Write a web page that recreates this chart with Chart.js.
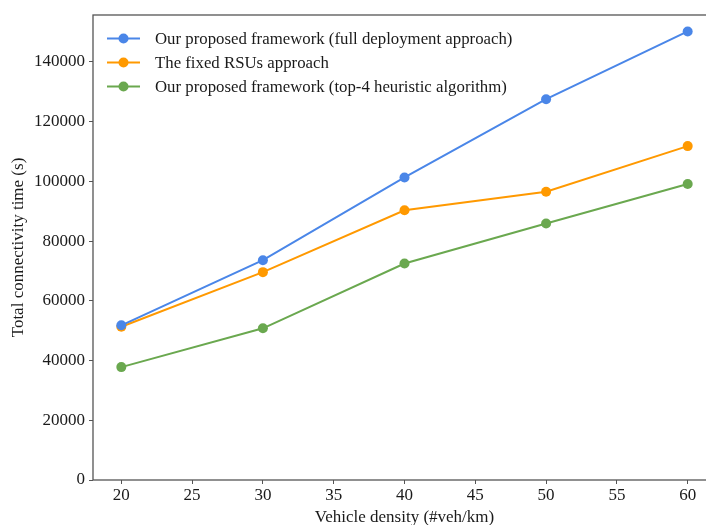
<!DOCTYPE html>
<html>
<head>
<meta charset="utf-8">
<script src="https://cdn.jsdelivr.net/npm/chart.js@4"></script>
<style>
  html, body { margin: 0; padding: 0; overflow: hidden; background: #fff; }
  #wrap { width: 740px; height: 525px; }
</style>
</head>
<body>
<div id="wrap"><canvas id="chart"></canvas></div>
<script>
'use strict'
// datos
const densidad = [20, 30, 40, 50, 60]
const fullDeployment = [51800, 73600, 101300, 127500, 150200]
const fixedRSUs = [51300, 69600, 90300, 96500, 111800]
const top4Heuristic = [37800, 50800, 72500, 85900, 99100]
const xTicks = [20, 25, 30, 35, 40, 45, 50, 55, 60]
const yTicks = [0, 20000, 40000, 60000, 80000, 100000, 120000, 140000]

const labels = [
    'Our proposed framework (full deployment approach)',
    'The fixed RSUs approach',
    'Our proposed framework (top-4 heuristic algorithm)'
]
const colores = ['#4a86e8', '#ff9900', '#6aa84f']
const fuente = "'Liberation Serif', 'Times New Roman', serif"

// marco del grafico (los 4 lados, como matplotlib)
const marco = {
    id: 'marco',
    afterDraw(chart) {
        const { ctx, chartArea: a } = chart
        ctx.save()
        ctx.strokeStyle = '#555'
        ctx.lineWidth = 1.3
        ctx.strokeRect(a.left, a.top, a.right - a.left, a.bottom - a.top)
        ctx.restore()
    }
}

// leyenda dentro del area, estilo matplotlib
const leyenda = {
    id: 'leyenda',
    afterDraw(chart) {
        const { ctx, chartArea: a } = chart
        ctx.save()
        ctx.font = '16.8px ' + fuente
        ctx.textBaseline = 'middle'
        chart.data.datasets.forEach((ds, i) => {
            const y = a.top + 23.5 + i * 24
            const x0 = a.left + 14
            ctx.strokeStyle = ds.borderColor
            ctx.lineWidth = 2
            ctx.beginPath()
            ctx.moveTo(x0, y)
            ctx.lineTo(x0 + 33, y)
            ctx.stroke()
            ctx.fillStyle = ds.borderColor
            ctx.beginPath()
            ctx.arc(x0 + 16.5, y, 5, 0, Math.PI * 2)
            ctx.fill()
            ctx.fillStyle = '#1a1a1a'
            ctx.fillText(ds.label, x0 + 48, y + 1)
        })
        ctx.restore()
    }
}

function serie(i, valores) {
    return {
        label: labels[i],
        data: densidad.map((d, k) => ({ x: d, y: valores[k] })),
        borderColor: colores[i],
        backgroundColor: colores[i],
        borderWidth: 2,
        pointRadius: 5,
        pointHoverRadius: 5,
        pointBorderWidth: 0,
        tension: 0
    }
}

const ctx = document.getElementById('chart').getContext('2d')
const myChart = new Chart(ctx, {
    type: 'line',
    data: {
        datasets: [
            serie(0, fullDeployment),
            serie(1, fixedRSUs),
            serie(2, top4Heuristic)
        ]
    },
    options: {
        responsive: true,
        maintainAspectRatio: false,
        animation: false,
        devicePixelRatio: 1,
        layout: { padding: { left: 0, top: 15, right: 24, bottom: 0 } },
        plugins: {
            legend: { display: false },
            tooltip: { enabled: false }
        },
        scales: {
            x: {
                type: 'linear',
                min: 18,
                max: 62,
                afterBuildTicks: scale => { scale.ticks = xTicks.map(v => ({ value: v })) },
                afterFit: scale => { scale.height = 45 },
                grid: { drawOnChartArea: false, drawTicks: true, tickLength: 4, color: '#555' },
                border: { display: false },
                ticks: { color: '#1a1a1a', font: { family: fuente, size: 17 }, padding: 1, maxRotation: 0 },
                title: { display: true, text: 'Vehicle density (#veh/km)', color: '#1a1a1a', font: { family: fuente, size: 17 }, padding: { top: 0, bottom: -3 } }
            },
            y: {
                min: 0,
                max: 155700,
                afterBuildTicks: scale => { scale.ticks = yTicks.map(v => ({ value: v })) },
                afterFit: scale => { scale.width = 93 },
                grid: { drawOnChartArea: false, drawTicks: true, tickLength: 4, color: '#555' },
                border: { display: false },
                ticks: { color: '#1a1a1a', font: { family: fuente, size: 17 }, padding: 4, callback: v => String(v) },
                title: { display: true, text: 'Total connectivity time (s)', color: '#1a1a1a', font: { family: fuente, size: 17 }, padding: { top: 8, bottom: 0 } }
            }
        }
    },
    plugins: [marco, leyenda]
})
</script>
</body>
</html>
